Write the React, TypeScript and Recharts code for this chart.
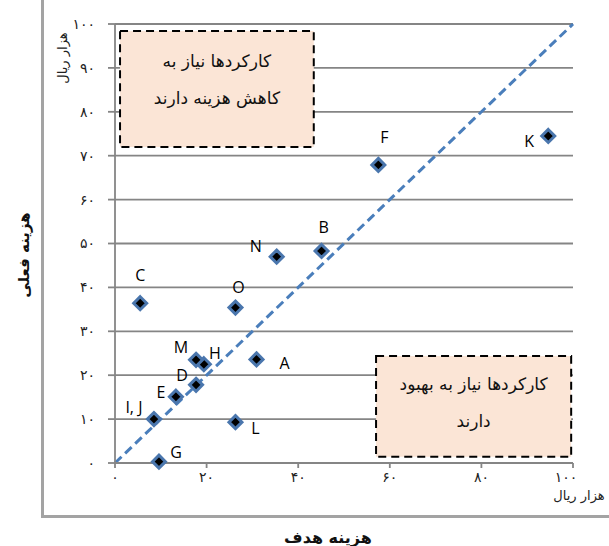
import {
  CartesianGrid,
  ReferenceArea,
  ReferenceLine,
  Scatter,
  ScatterChart,
  XAxis,
  YAxis,
} from "recharts";

const names = ["A", "B", "C", "D", "E", "F", "G", "H", "I, J", "K", "L", "M", "N", "O"];
const targetCost = [30.9, 45.1, 5.5, 17.7, 13.3, 57.5, 9.6, 19.4, 8.5, 94.6, 26.3, 17.7, 35.3, 26.3];
const actualCost = [23.6, 48.3, 36.4, 17.8, 15.1, 67.9, 0.3, 22.5, 10, 74.5, 9.3, 23.5, 47.0, 35.4];

const xTicks = [0, 20, 40, 60, 80, 100];
const yTicks = [0, 10, 20, 30, 40, 50, 60, 70, 80, 90, 100];

const unitText = "هزار ریال";
const xTitle = "هزینه هدف";
const yTitle = "هزینه فعلی";
const reduceCostText = ["کارکردها نیاز به", "کاهش هزینه دارند"];
const improveText = ["کارکردها نیاز به بهبود", "دارند"];

// label offset from marker centre, px
const labelOffset: Record<string, [number, number]> = {
  A: [28, 4],
  B: [2, -24],
  C: [0, -28],
  D: [-14, -10],
  E: [-15, -5],
  F: [6, -28],
  G: [17, -10],
  H: [11, -11],
  "I, J": [-20, -12],
  K: [-19, 5],
  L: [20, 6],
  M: [-15, -13],
  N: [-21, -11],
  O: [3, -21],
};

const points = names.map((name, i) => ({ name, x: targetCost[i], y: actualCost[i] }));

const persianFont = "'DejaVu Sans', sans-serif";

function toPersian(value: number | string) {
  return String(value).replace(/\d/g, (d) => "۰۱۲۳۴۵۶۷۸۹"[Number(d)]);
}

function DiamondPoint(props: any) {
  const { cx, cy, payload } = props;
  const r = 6.5;
  const [dx, dy] = labelOffset[payload.name] ?? [0, -20];
  return (
    <g>
      <polygon
        points={`${cx},${cy - r} ${cx + r},${cy} ${cx},${cy + r} ${cx - r},${cy}`}
        fill="#000"
        stroke="#4a76ad"
        strokeWidth={3}
        strokeLinejoin="miter"
      />
      <text
        x={cx + dx}
        y={cy + dy}
        textAnchor="middle"
        dominantBaseline="central"
        fontFamily="'Open Sans', sans-serif"
        fontSize={16}
        fill="#000"
      >
        {payload.name}
      </text>
    </g>
  );
}

function XTick({ x, y, payload }: any) {
  return (
    <g>
      <text x={payload.value === 100 ? x - 7 : x} y={y + 4} textAnchor="middle" fontFamily={persianFont} fontSize={14} fill="#222">
        {toPersian(payload.value)}
      </text>
      {payload.value === 100 && (
        <text x={x + 6} y={y + 22} textAnchor="middle" fontFamily={persianFont} fontSize={13} fill="#222">
          {unitText}
        </text>
      )}
    </g>
  );
}

function YTick({ x, y, payload }: any) {
  return (
    <g>
      <text x={x} y={y} dy="0.35em" textAnchor="end" fontFamily={persianFont} fontSize={14} fill="#222">
        {toPersian(payload.value)}
      </text>
      {payload.value === 100 && (
        <text
          x={62}
          y={y + 34}
          textAnchor="middle"
          dominantBaseline="central"
          transform={`rotate(-90 62 ${y + 34})`}
          fontFamily={persianFont}
          fontSize={13}
          fill="#222"
        >
          {unitText}
        </text>
      )}
    </g>
  );
}

function boxLabel(lines: string[], gap: number, shift: number) {
  return (props: any) => {
    const { x, y, width, height } = props.viewBox;
    const cx = x + width / 2;
    const cy = y + height / 2 + shift;
    return (
      <g>
        {lines.map((line, i) => (
          <text
            key={i}
            x={cx}
            y={cy + (i - (lines.length - 1) / 2) * gap}
            textAnchor="middle"
            dominantBaseline="central"
            fontFamily={persianFont}
            fontSize={17}
            fill="#111"
          >
            {line}
          </text>
        ))}
      </g>
    );
  };
}

export default function App() {
  return (
    <div style={{ position: "absolute", left: 0, top: 0, width: 609, height: 546, background: "#fff" }}>
      <div
        style={{
          position: "absolute",
          left: 41,
          top: 0,
          width: 568,
          height: 515,
          borderLeft: "3px solid #a3a3a3",
          borderBottom: "3px solid #a3a3a3",
        }}
      />
      <ScatterChart
        width={609}
        height={546}
        margin={{ top: 24, right: 36, bottom: 43, left: 55 }}
        style={{ position: "absolute", left: 0, top: 0 }}
      >
        <CartesianGrid vertical={false} stroke="#858585" strokeWidth={1.8} />
        <XAxis
          type="number"
          dataKey="x"
          domain={[0, 100]}
          ticks={xTicks}
          interval={0}
          height={40}
          stroke="#858585"
          strokeWidth={1.8}
          tickSize={5}
          tickMargin={10}
          tick={<XTick />}
        />
        <YAxis
          type="number"
          dataKey="y"
          domain={[0, 100]}
          ticks={yTicks}
          interval={0}
          width={60}
          stroke="#858585"
          strokeWidth={1.8}
          tickSize={7}
          tickMargin={13}
          tick={<YTick />}
        />
        <ReferenceArea
          x1={1.1}
          x2={43.4}
          y1={72}
          y2={98.4}
          fill="#fbe5d6"
          fillOpacity={1}
          stroke="#000"
          strokeWidth={2}
          strokeDasharray="8 5"
          ifOverflow="visible"
          label={boxLabel(reduceCostText, 37, -9)}
        />
        <ReferenceArea
          x1={57}
          x2={99.6}
          y1={1.4}
          y2={24.4}
          fill="#fbe5d6"
          fillOpacity={1}
          stroke="#000"
          strokeWidth={2}
          strokeDasharray="8 5"
          ifOverflow="visible"
          label={boxLabel(improveText, 37, -4)}
        />
        <ReferenceLine
          segment={[
            { x: 0, y: 0 },
            { x: 100, y: 100 },
          ]}
          stroke="#4a7ebb"
          strokeWidth={3}
          strokeDasharray="9 5"
          ifOverflow="visible"
        />
        <Scatter data={points} shape={<DiamondPoint />} isAnimationActive={false} />
      </ScatterChart>
      <svg width={609} height={546} style={{ position: "absolute", left: 0, top: 0, pointerEvents: "none" }}>
        <text x={328} y={537} textAnchor="middle" dominantBaseline="central" fontFamily={persianFont} fontWeight="bold" fontSize={16} fill="#111">
          {xTitle}
        </text>
        <text
          x={24}
          y={255}
          textAnchor="middle"
          dominantBaseline="central"
          transform="rotate(-90 24 255)"
          fontFamily={persianFont}
          fontWeight="bold"
          fontSize={15}
          fill="#111"
        >
          {yTitle}
        </text>
      </svg>
    </div>
  );
}
